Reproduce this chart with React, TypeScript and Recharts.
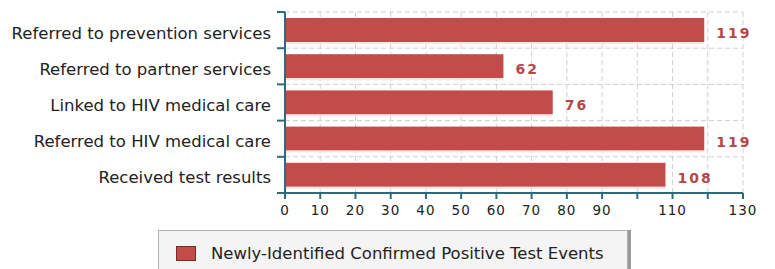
import React from 'react';
import { BarChart, Bar, XAxis, YAxis, CartesianGrid, LabelList, Legend } from 'recharts';

const categories = [
  'Referred to prevention services',
  'Referred to partner services',
  'Linked to HIV medical care',
  'Referred to HIV medical care',
  'Received test results',
];
const values = [119, 62, 76, 119, 108];
const xTicks = [0, 10, 20, 30, 40, 50, 60, 70, 80, 90, 100, 110, 120, 130];
const hiddenTickLabels = [100, 120];
const seriesName = 'Newly-Identified Confirmed Positive Test Events';

const data = categories.map((c, i) => ({ name: c, value: values[i] }));

const AXIS = '#2e6b7a';
const BAR = '#c24c49';
const FONT = '"DejaVu Sans", Verdana, sans-serif';

const CHART_H = 269;
const M_TOP = 12;
const PLOT_BOTTOM = 193;
const band = (PLOT_BOTTOM - M_TOP) / categories.length;

const YTick = (props: any) => {
  const { x, y, payload, index } = props;
  const ax = x + 6;
  return (
    <g>
      <line x1={ax} x2={ax + 8} y1={y - band / 2} y2={y - band / 2} stroke={AXIS} strokeWidth={2} />
      {index === categories.length - 1 && (
        <line x1={ax} x2={ax + 8} y1={y + band / 2} y2={y + band / 2} stroke={AXIS} strokeWidth={2} />
      )}
      <text x={x} y={y} dy={8.5} textAnchor="end" fontFamily={FONT} fontSize={16.5} fill="#222">
        {payload.value}
      </text>
    </g>
  );
};

const XTick = (props: any) => {
  const { x, y, payload } = props;
  if (hiddenTickLabels.includes(payload.value)) return <g />;
  return (
    <text x={x} y={y} dy={13} textAnchor="middle" fontFamily={FONT} fontSize={13.5} fill="#222" letterSpacing={1}>
      {payload.value}
    </text>
  );
};

const BarShape = (props: any) => {
  const { x, y, width, height } = props;
  return (
    <g>
      <rect x={x} y={y} width={width} height={height} fill={BAR} />
      <line x1={x} x2={x + width} y1={y + height + 1} y2={y + height + 1} stroke="#f2e6e6" strokeWidth={2} />
    </g>
  );
};

const LegendContent = () => (
  <div
    style={{
      height: 40,
      boxSizing: 'border-box',
      background: '#f4f4f4',
      border: '1px solid #b0b0b0',
      boxShadow: '3px 0 0 #9a9a9a',
      display: 'flex',
      alignItems: 'flex-start',
      paddingTop: 15,
      paddingLeft: 17,
      fontFamily: FONT,
      fontSize: 16.5,
      color: '#222',
    }}
  >
    <span
      style={{
        display: 'inline-block',
        width: 20,
        height: 15,
        background: BAR,
        border: '1px solid #7a2a28',
        boxSizing: 'border-box',
        marginRight: 15,
      }}
    />
    <span style={{ lineHeight: '15px' }}>{seriesName}</span>
  </div>
);

export default function App() {
  return (
    <div style={{ position: 'absolute', left: 0, top: 0, width: 775, height: CHART_H, background: '#fff' }}>
      <BarChart
        width={775}
        height={CHART_H}
        data={data}
        layout="vertical"
        margin={{ top: M_TOP, right: 32, left: 0, bottom: 6 }}
        barCategoryGap={6}
      >
        <CartesianGrid
          stroke="#d0d0d0"
          strokeDasharray="5 3"
          horizontalCoordinatesGenerator={({ offset }: any) =>
            categories.map((_, i) => offset.top + (i * offset.height) / categories.length)
          }
        />
        <XAxis
          type="number"
          domain={[0, 130]}
          ticks={xTicks}
          interval={0}
          height={30}
          tick={<XTick />}
          tickSize={6}
          tickMargin={3}
          axisLine={{ stroke: AXIS, strokeWidth: 2 }}
          tickLine={{ stroke: AXIS, strokeWidth: 2 }}
        />
        <YAxis
          type="category"
          dataKey="name"
          width={285}
          tick={<YTick />}
          tickSize={8}
          tickMargin={6}
          tickLine={false}
          axisLine={{ stroke: AXIS, strokeWidth: 2 }}
          interval={0}
        />
        <Legend
          verticalAlign="bottom"
          content={<LegendContent />}
          wrapperStyle={{ left: 158, top: 230, bottom: 'auto', width: 470, height: 40 }}
        />
        <Bar dataKey="value" name={seriesName} fill={BAR} shape={<BarShape />} isAnimationActive={false}>
          <LabelList
            dataKey="value"
            position="right"
            offset={12}
            fill="#b5474a"
            fontFamily={FONT}
            fontSize={14}
            fontWeight="bold"
            letterSpacing={2}
            dy={3}
          />
        </Bar>
      </BarChart>
    </div>
  );
}
